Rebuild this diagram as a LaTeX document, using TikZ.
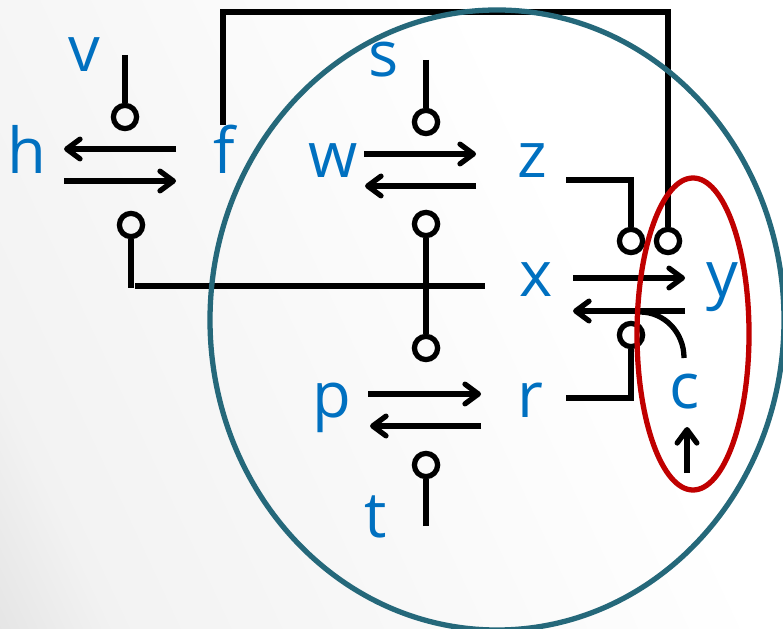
\documentclass[tikz,border=0pt]{standalone}
\usepackage{fontspec}
\setmainfont{Open Sans}
\usepackage{xcolor}
\usetikzlibrary{arrows.meta,calc}
\definecolor{varblue}{HTML}{0070C0}
\definecolor{ringteal}{HTML}{25687A}
\definecolor{ringred}{HTML}{C00000}
\pgfdeclarehorizontalshading{backdrop}{100bp}{color(0bp)=(black!12); color(14bp)=(black!12); color(24bp)=(black!5); color(40bp)=(black!3); color(56bp)=(black!1); color(64bp)=(white); color(100bp)=(white)}
\tikzset{
  var/.style={text=varblue, anchor=base, inner sep=0pt, font=\fontsize{18}{20}\selectfont},
  pin/.style={draw, circle, line width=1.5pt, minimum size=6.6pt, inner sep=0pt},
  wire/.style={line width=1.5pt},
  flow/.style={line width=1.5pt, -{Straight Barb[round,length=3.8pt,width=5.6pt,line width=1.5pt]}},
}
\begin{document}
\begin{tikzpicture}[x=0.01cm, y=-0.01cm]
\useasboundingbox (0,0) rectangle (783,628);
% backdrop
\shade[shading=backdrop, shading angle=25] (0,0) rectangle (783,628);
% species
\node[var] (v) at (84,72) {v};
\node[var] (h) at (27,174) {h};
\node[var] (f) at (224,174) {f};
\node[var] (s) at (384,77) {s};
\node[var] (w) at (333,178) {w};
\node[var] (z) at (532,178) {z};
\node[var] (x) at (536,297) {x};
\node[var] (y) at (722,297) {y};
\node[var] (p) at (332,417) {p};
\node[var] (r) at (530,417) {r};
\node[var] (c) at (685,408) {c};
\node[var] (t) at (376,537) {t};
% inhibitor heads
\node[pin] (pinv) at (125,117) {};
\node[pin] (pinx) at (131,225) {};
\node[pin] (pins) at (426,122) {};
\node[pin] (pinw) at (426,224) {};
\node[pin] (pinp) at (426,348) {};
\node[pin] (pint) at (426,465) {};
\node[pin] (pinz) at (631,241) {};
\node[pin] (pinf) at (668,241) {};
\node[pin] (pinr) at (631,335) {};
% free ends
\coordinate (vtop) at (125,55);
\coordinate (stop) at (426,60);
\coordinate (tend) at (426,526);
\coordinate (ftop) at (223,125);
\coordinate (fcorner) at (223,12);
\coordinate (xdown) at (131,288);
\coordinate (xleft) at (135,286);
\coordinate (xright) at (485,286);
\coordinate (zend) at (566,180);
\coordinate (rend) at (566,398);
% wires
\draw[wire] (vtop) -- (pinv);
\draw[wire] (stop) -- (pins);
\draw[wire] (tend) -- (pint);
\draw[wire] (pinw) -- (pinp);
\draw[wire] (pinx) -- (xdown);
\draw[wire] (xleft) -- (xright);
\draw[wire] (ftop) -- (fcorner) -| (pinf);
\draw[wire] (zend) -| (pinz);
\draw[wire] (rend) -| (pinr);
% paired reactions
\draw[flow] (176,149) coordinate (a1) -- (64,149) coordinate (a2);
\draw[flow] (64,181) coordinate (a3) -- (176,181) coordinate (a4);
\draw[flow] (364,154) coordinate (b1) -- (476,154) coordinate (b2);
\draw[flow] (476,186) coordinate (b3) -- (365,186) coordinate (b4);
\draw[flow] (573,278) coordinate (d1) -- (685,278) coordinate (d2);
\draw[flow] (685,311) coordinate (d3) -- (573,311) coordinate (d4);
\draw[flow] (368,394) coordinate (e1) -- (481,394) coordinate (e2);
\draw[flow] (481,426) coordinate (e3) -- (370,426) coordinate (e4);
% c input and its joint
\coordinate (cin) at (687,473);
\coordinate (cout) at (687,427);
\draw[flow] (cin) -- (cout);
\coordinate (carc) at (684,358);
\coordinate (cjoin) at (640,312);
\draw[wire] (carc) .. controls (684,332) and (664,312) .. (cjoin);
% rings
\draw[ringteal, line width=1.5pt] (497,320) ellipse (287 and 310);
\draw[ringred, line width=1.5pt] (693,334) ellipse (56 and 156);
\end{tikzpicture}
\end{document}
